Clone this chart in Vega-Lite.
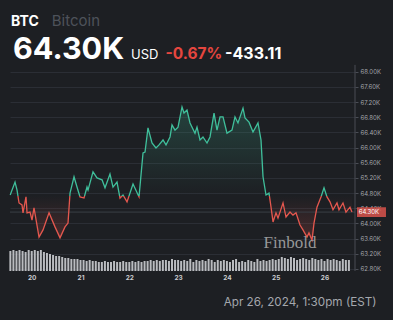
{
  "$schema": "https://vega.github.io/schema/vega-lite/v6.json",
  "width": 345,
  "height": 271,
  "autosize": {"type": "none"},
  "padding": {"left": 10, "top": 0, "right": 38, "bottom": 49},
  "background": "#1d1f23",
  "config": {"view": {"stroke": null}, "font": "Inter"},
  "datasets": {
    "price": [
      {"t":19.559,"p":64.75},{"t":19.658,"p":65.09},{"t":19.699,"p":64.88},{"t":19.740,"p":64.54},{"t":19.801,"p":64.49},{"t":19.822,"p":64.28},{"t":19.883,"p":64.70},{"t":19.904,"p":64.28},{"t":19.965,"p":64.30},{"t":20.006,"p":64.09},{"t":20.047,"p":64.41},{"t":20.150,"p":63.64},{"t":20.232,"p":63.83},{"t":20.355,"p":64.28},{"t":20.477,"p":63.91},{"t":20.580,"p":63.62},{"t":20.682,"p":63.91},{"t":20.744,"p":64.01},{"t":20.785,"p":64.80},{"t":20.867,"p":65.23},{"t":20.928,"p":64.96},{"t":20.990,"p":64.70},{"t":21.072,"p":64.67},{"t":21.133,"p":64.96},{"t":21.154,"p":64.88},{"t":21.256,"p":65.36},{"t":21.338,"p":65.20},{"t":21.441,"p":65.15},{"t":21.502,"p":64.94},{"t":21.604,"p":65.30},{"t":21.666,"p":64.96},{"t":21.748,"p":65.09},{"t":21.809,"p":64.67},{"t":21.871,"p":64.75},{"t":21.953,"p":64.57},{"t":22.076,"p":65.04},{"t":22.199,"p":64.70},{"t":22.281,"p":65.86},{"t":22.322,"p":65.88},{"t":22.383,"p":66.52},{"t":22.465,"p":66.12},{"t":22.547,"p":65.99},{"t":22.609,"p":66.07},{"t":22.691,"p":66.20},{"t":22.752,"p":66.07},{"t":22.834,"p":66.28},{"t":22.875,"p":66.60},{"t":22.936,"p":66.46},{"t":22.998,"p":66.54},{"t":23.080,"p":67.07},{"t":23.121,"p":66.91},{"t":23.182,"p":66.99},{"t":23.244,"p":66.65},{"t":23.346,"p":66.38},{"t":23.387,"p":66.54},{"t":23.449,"p":66.20},{"t":23.510,"p":66.28},{"t":23.592,"p":66.12},{"t":23.654,"p":66.28},{"t":23.736,"p":66.91},{"t":23.797,"p":66.46},{"t":23.859,"p":66.81},{"t":23.920,"p":66.81},{"t":24.002,"p":66.38},{"t":24.104,"p":66.46},{"t":24.166,"p":66.81},{"t":24.227,"p":66.65},{"t":24.330,"p":67.04},{"t":24.371,"p":66.78},{"t":24.453,"p":66.67},{"t":24.535,"p":66.41},{"t":24.637,"p":66.65},{"t":24.699,"p":66.20},{"t":24.740,"p":65.23},{"t":24.801,"p":64.75},{"t":24.863,"p":64.80},{"t":24.904,"p":64.43},{"t":24.945,"p":64.04},{"t":25.006,"p":64.28},{"t":25.047,"p":64.14},{"t":25.150,"p":64.54},{"t":25.211,"p":64.17},{"t":25.293,"p":64.30},{"t":25.354,"p":64.22},{"t":25.416,"p":64.28},{"t":25.498,"p":63.96},{"t":25.559,"p":63.83},{"t":25.641,"p":63.64},{"t":25.682,"p":63.75},{"t":25.744,"p":63.56},{"t":25.785,"p":64.01},{"t":25.846,"p":64.43},{"t":25.928,"p":64.70},{"t":25.990,"p":64.94},{"t":26.051,"p":64.70},{"t":26.113,"p":64.57},{"t":26.174,"p":64.36},{"t":26.256,"p":64.54},{"t":26.297,"p":64.36},{"t":26.379,"p":64.54},{"t":26.440,"p":64.30},{"t":26.522,"p":64.43},{"t":26.5625,"p":64.30}
    ],
    "vol": [
      {"t":19.5625,"v":2.0},{"t":19.625,"v":2.1},{"t":19.6875,"v":2.0},{"t":19.75,"v":2.1},{"t":19.8125,"v":2.0},{"t":19.875,"v":1.9},{"t":19.9375,"v":2.1},{"t":20.0,"v":2.0},{"t":20.0625,"v":2.1},{"t":20.125,"v":2.0},{"t":20.1875,"v":2.1},{"t":20.25,"v":1.9},
      {"t":20.3125,"v":1.8},{"t":20.375,"v":1.7},{"t":20.4375,"v":1.6},{"t":20.5,"v":1.5},{"t":20.5625,"v":1.5},
      {"t":20.625,"v":1.4},{"t":20.6875,"v":1.3},{"t":20.75,"v":1.3},{"t":20.8125,"v":1.2},{"t":20.875,"v":1.2},{"t":20.9375,"v":1.2},
      {"t":21.0,"v":1.1},{"t":21.0625,"v":1.1},{"t":21.125,"v":1.0},{"t":21.1875,"v":1.1},{"t":21.25,"v":1.0},{"t":21.3125,"v":1.0},{"t":21.375,"v":0.9},
      {"t":21.4375,"v":0.9},{"t":21.5,"v":1.0},{"t":21.5625,"v":0.9},{"t":21.625,"v":0.9},{"t":21.6875,"v":1.0},{"t":21.75,"v":0.9},{"t":21.8125,"v":0.9},{"t":21.875,"v":1.0},{"t":21.9375,"v":0.9},{"t":22.0,"v":0.9},{"t":22.0625,"v":1.0},{"t":22.125,"v":0.9},{"t":22.1875,"v":1.0},{"t":22.25,"v":0.9},
      {"t":22.3125,"v":1.0},{"t":22.375,"v":1.0},{"t":22.4375,"v":1.1},{"t":22.5,"v":1.0},{"t":22.5625,"v":1.1},{"t":22.625,"v":1.0},{"t":22.6875,"v":1.1},{"t":22.75,"v":1.1},{"t":22.8125,"v":1.0},{"t":22.875,"v":1.2},{"t":22.9375,"v":1.1},{"t":23.0,"v":1.1},
      {"t":23.0625,"v":1.0},{"t":23.125,"v":1.1},{"t":23.1875,"v":1.0},{"t":23.25,"v":1.2},{"t":23.3125,"v":0.9},{"t":23.375,"v":1.1},{"t":23.4375,"v":1.0},{"t":23.5,"v":1.1},{"t":23.5625,"v":1.0},{"t":23.625,"v":1.2},{"t":23.6875,"v":1.1},{"t":23.75,"v":0.9},{"t":23.8125,"v":1.1},{"t":23.875,"v":1.0},{"t":23.9375,"v":1.1},
      {"t":24.0,"v":1.0},{"t":24.0625,"v":0.9},{"t":24.125,"v":1.1},{"t":24.1875,"v":1.2},{"t":24.25,"v":0.9},{"t":24.3125,"v":1.0},{"t":24.375,"v":0.9},{"t":24.4375,"v":1.1},{"t":24.5,"v":1.0},{"t":24.5625,"v":0.9},{"t":24.625,"v":1.2},{"t":24.6875,"v":1.0},{"t":24.75,"v":1.1},{"t":24.8125,"v":1.0},{"t":24.875,"v":1.1},
      {"t":24.9375,"v":1.2},{"t":25.0,"v":1.1},{"t":25.0625,"v":1.2},{"t":25.125,"v":1.4},{"t":25.1875,"v":1.3},{"t":25.25,"v":1.2},{"t":25.3125,"v":1.4},{"t":25.375,"v":1.3},{"t":25.4375,"v":1.1},{"t":25.5,"v":1.2},{"t":25.5625,"v":1.3},{"t":25.625,"v":1.2},{"t":25.6875,"v":1.1},{"t":25.75,"v":1.3},{"t":25.8125,"v":1.2},
      {"t":25.875,"v":1.1},{"t":25.9375,"v":1.2},{"t":26.0,"v":1.0},{"t":26.0625,"v":1.2},{"t":26.125,"v":1.1},{"t":26.1875,"v":1.2},{"t":26.25,"v":1.1},{"t":26.3125,"v":1.0},{"t":26.375,"v":1.2},{"t":26.4375,"v":1.1},{"t":26.5,"v":1.1}
    ]
  },
  "layer": [
    {
      "data": {"name": "vol"},
      "mark": {"type": "bar", "size": 2, "color": "#babcc0"},
      "encoding": {
        "x": {"field": "t", "type": "quantitative", "scale": {"domain": [19.555, 26.625], "nice": false, "zero": false, "padding": 0},
          "axis": {"values": [20, 21, 22, 23, 24, 25, 26], "format": "d", "labelColor": "#c9cbcf", "labelFontSize": 6.5, "labelFontWeight": "bold", "labelPadding": 3, "ticks": false, "domain": false, "grid": false,
            "title": "Apr 26, 2024, 1:30pm (EST)", "titleColor": "#a4a7ad", "titleFontSize": 11.7, "titleFontWeight": "normal", "titleX": 366, "titleY": 34, "titleAlign": "right", "titleBaseline": "alphabetic"}},
        "y": {"field": "v", "type": "quantitative", "scale": {"domain": [0, 27.1]}, "axis": null}
      }
    },
    {
      "data": {"name": "price"},
      "mark": {"type": "area", "interpolate": "linear",
        "fill": {"gradient": "linear", "x1": 0, "y1": 0, "x2": 0, "y2": 1, "stops": [
          {"offset": 0, "color": "rgba(63,191,155,0.22)"},
          {"offset": 0.6658, "color": "rgba(63,191,155,0.0)"},
          {"offset": 0.6658, "color": "rgba(229,87,78,0.0)"},
          {"offset": 1, "color": "rgba(229,87,78,0.22)"}]}},
      "encoding": {
        "x": {"field": "t", "type": "quantitative"},
        "y": {"field": "p", "type": "quantitative", "scale": {"domain": [62.747, 69.89], "nice": false, "zero": false},
          "axis": {"orient": "right", "values": [62.8, 63.2, 63.6, 64, 64.4, 64.8, 65.2, 65.6, 66, 66.4, 66.8, 67.2, 67.6, 68],
            "labelExpr": "format(datum.value, '.2f') + 'K'", "labelColor": "#a3a6ab", "labelFontSize": 6, "labelPadding": 2,
            "tickSize": 3, "tickColor": "#4a4d55", "domain": false, "grid": true, "gridColor": "#2b2e35", "gridWidth": 1, "title": null}},
        "y2": {"datum": 64.733}
      }
    },
    {
      "data": {"values": [{}]},
      "mark": {"type": "rule", "color": "#3a3e46", "strokeWidth": 1},
      "encoding": {"y": {"datum": 64.30, "scale": {"domain": [62.747, 69.89], "nice": false, "zero": false}, "axis": null}}
    },
    {
      "data": {"name": "price"},
      "mark": {"type": "line", "interpolate": "linear", "strokeWidth": 1.3,
        "stroke": {"gradient": "linear", "x1": 0, "y1": 0, "x2": 0, "y2": 1, "stops": [
          {"offset": 0, "color": "#3fbf9b"},
          {"offset": 0.6658, "color": "#3fbf9b"},
          {"offset": 0.6658, "color": "#e5574e"},
          {"offset": 1, "color": "#e5574e"}]}},
      "encoding": {
        "x": {"field": "t", "type": "quantitative"},
        "y": {"field": "p", "type": "quantitative", "scale": {"domain": [62.747, 69.89], "nice": false, "zero": false}, "axis": null}
      }
    },
    {
      "data": {"values": [{}]},
      "mark": {"type": "text", "text": "Finbold", "font": "Liberation Serif", "fontSize": 17, "color": "#b5b5b5", "opacity": 0.8, "align": "center", "baseline": "alphabetic"},
      "encoding": {"x": {"datum": 25.293}, "y": {"datum": 63.361, "scale": {"domain": [62.747, 69.89], "nice": false, "zero": false}, "axis": null}}
    },
    {
      "data": {"values": [{}]},
      "mark": {"type": "rule", "color": "#4a4d55", "strokeWidth": 1},
      "encoding": {"x": {"datum": 26.625}, "y": {"datum": 68.18, "scale": {"domain": [62.747, 69.89], "nice": false, "zero": false}, "axis": null}, "y2": {"datum": 62.747}}
    },
    {
      "data": {"values": [{}]},
      "mark": {"type": "rect", "color": "#d9544c", "opacity": 0.85},
      "encoding": {"x": {"datum": 26.666}, "x2": {"datum": 27.26}, "y": {"datum": 64.43, "scale": {"domain": [62.747, 69.89], "nice": false, "zero": false}, "axis": null}, "y2": {"datum": 64.17}}
    },
    {
      "data": {"values": [{}]},
      "mark": {"type": "text", "text": "64.30K", "fontSize": 6, "color": "#ffffff", "align": "left", "baseline": "middle"},
      "encoding": {"x": {"datum": 26.70}, "y": {"datum": 64.30, "scale": {"domain": [62.747, 69.89], "nice": false, "zero": false}, "axis": null}}
    },
    {
      "data": {"values": [{}]},
      "mark": {"type": "text", "text": "BTC", "fontSize": 14, "fontWeight": "bold", "color": "#ffffff", "align": "left", "baseline": "alphabetic"},
      "encoding": {"x": {"datum": 19.576}, "y": {"datum": 69.205, "scale": {"domain": [62.747, 69.89], "nice": false, "zero": false}, "axis": null}}
    },
    {
      "data": {"values": [{}]},
      "mark": {"type": "text", "text": "Bitcoin", "fontSize": 15, "color": "#4d525a", "align": "left", "baseline": "alphabetic"},
      "encoding": {"x": {"datum": 20.41}, "y": {"datum": 69.205, "scale": {"domain": [62.747, 69.89], "nice": false, "zero": false}, "axis": null}}
    },
    {
      "data": {"values": [{}]},
      "mark": {"type": "text", "text": "64.30K", "fontSize": 30.5, "fontWeight": "bold", "color": "#ffffff", "align": "left", "baseline": "alphabetic"},
      "encoding": {"x": {"datum": 19.617}, "y": {"datum": 68.327, "scale": {"domain": [62.747, 69.89], "nice": false, "zero": false}, "axis": null}}
    },
    {
      "data": {"values": [{}]},
      "mark": {"type": "text", "text": "USD", "fontSize": 13, "color": "#ffffff", "align": "left", "baseline": "alphabetic"},
      "encoding": {"x": {"datum": 22.035}, "y": {"datum": 68.327, "scale": {"domain": [62.747, 69.89], "nice": false, "zero": false}, "axis": null}}
    },
    {
      "data": {"values": [{}]},
      "mark": {"type": "text", "text": "-0.67%", "fontSize": 15.5, "fontWeight": "bold", "color": "#e5463f", "align": "left", "baseline": "alphabetic"},
      "encoding": {"x": {"datum": 22.742}, "y": {"datum": 68.327, "scale": {"domain": [62.747, 69.89], "nice": false, "zero": false}, "axis": null}}
    },
    {
      "data": {"values": [{}]},
      "mark": {"type": "text", "text": "-433.11", "fontSize": 16, "fontWeight": "bold", "color": "#ffffff", "align": "left", "baseline": "alphabetic"},
      "encoding": {"x": {"datum": 23.961}, "y": {"datum": 68.327, "scale": {"domain": [62.747, 69.89], "nice": false, "zero": false}, "axis": null}}
    }
  ],
  "resolve": {"scale": {"y": "independent"}}
}
